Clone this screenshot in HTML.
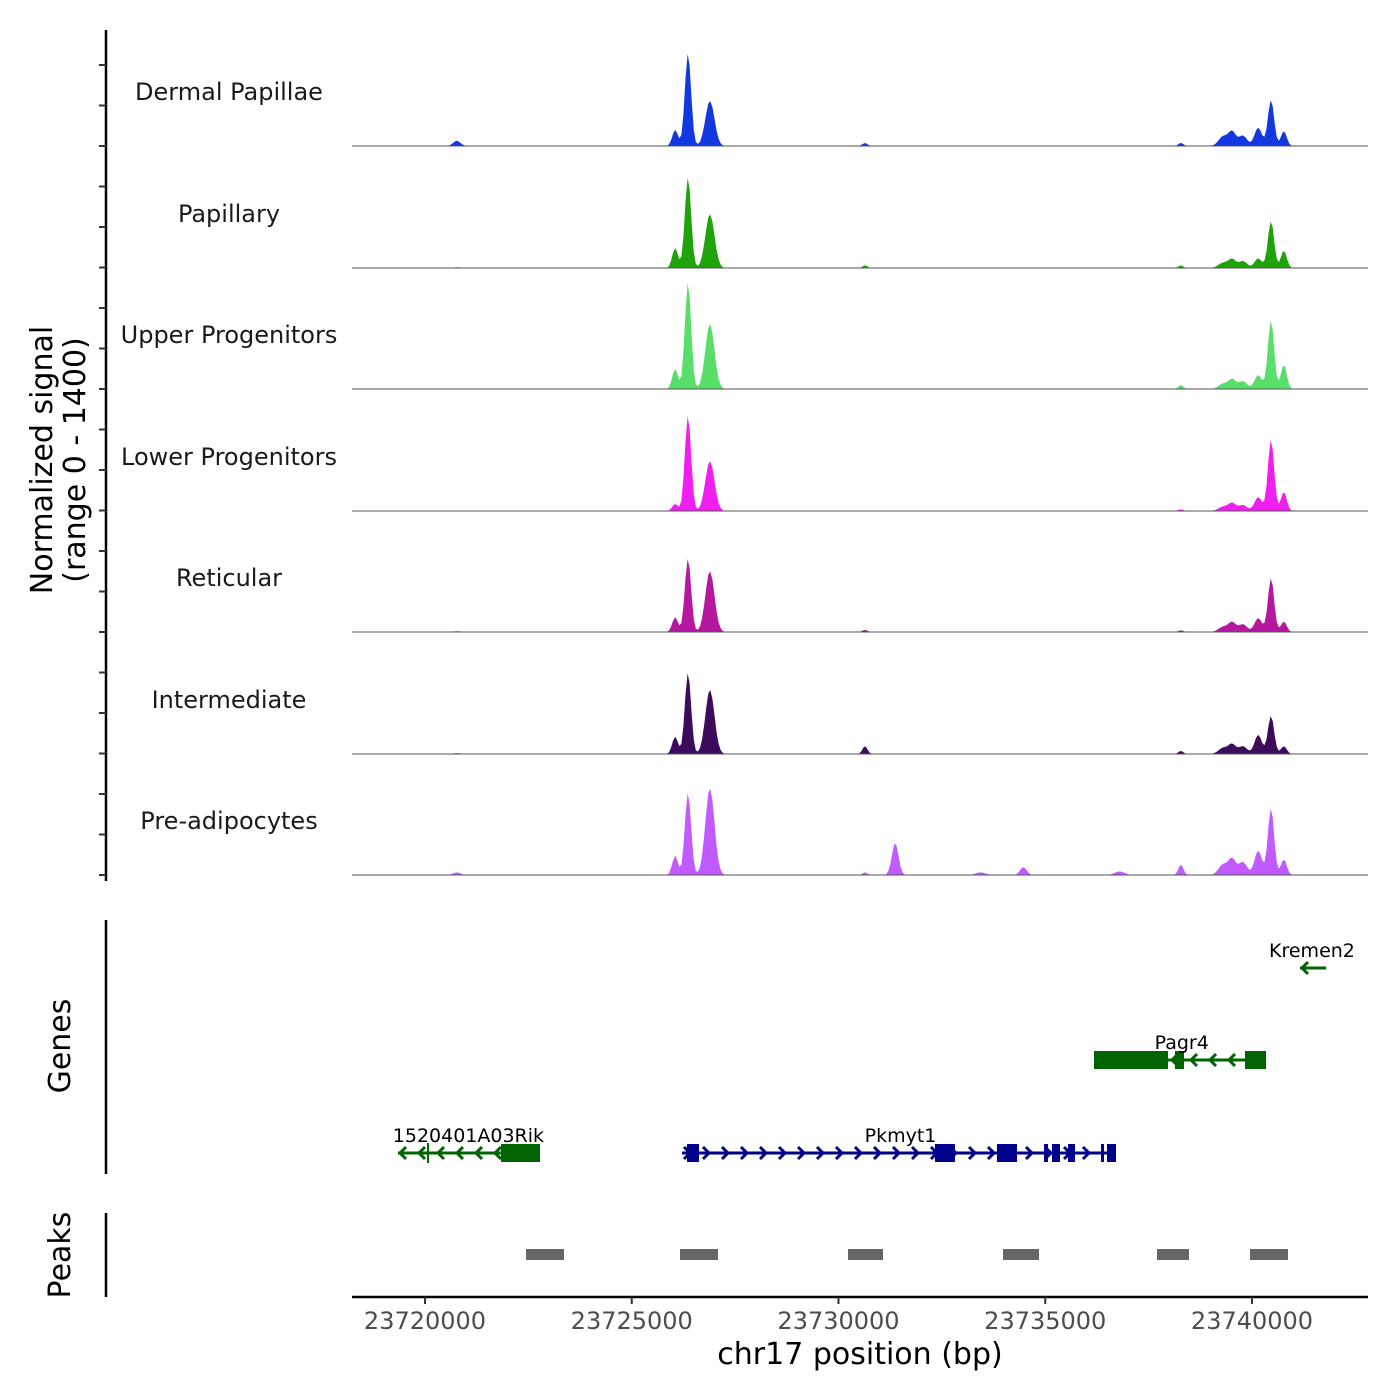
<!DOCTYPE html>
<html><head><meta charset="utf-8"><style>
body{margin:0;background:#fff}
svg{display:block;font-family:"DejaVu Sans","Liberation Sans",sans-serif}
</style></head><body>
<svg id="chart" width="1400" height="1400" viewBox="0 0 1400 1400" xmlns="http://www.w3.org/2000/svg"></svg>
<script>
// ---- data ----
const trackNames = ["Dermal Papillae","Papillary","Upper Progenitors","Lower Progenitors","Reticular","Intermediate","Pre-adipocytes"];
const trackColors = ["#1438e0","#1ea30a","#5ade6a","#f01ff0","#b5179e","#3d0b5c","#c25bff"];
// peak centers (bp) shared by tracks
const peakPos = [23720770,23726050,23726360,23726890,23730640,23731370,23733430,23734470,23736800,23738280,23739300,23739520,23739780,23740150,23740460,23740770];
const peakSd  = [90,70,75,110,60,80,120,80,120,60,110,90,100,90,75,70];
const sigDermal = [60,185,1070,520,35,0,5,5,5,35,110,160,120,210,530,170];
const sigPap    = [8,230,1050,620,30,0,5,5,5,30,60,100,80,110,540,200];
const sigUpper  = [5,230,1230,750,5,0,5,5,5,45,60,110,90,160,790,280];
const sigLower  = [5,80,1100,575,5,0,5,5,5,20,50,90,70,160,820,220];
const sigRet    = [10,170,850,700,25,0,5,5,5,20,60,110,90,160,620,120];
const sigInter  = [10,200,940,740,90,0,5,5,5,35,70,110,90,220,440,90];
const sigPreAd  = [30,220,950,1000,30,370,30,90,40,120,120,180,150,280,770,180];
const trackSignals = [sigDermal,sigPap,sigUpper,sigLower,sigRet,sigInter,sigPreAd];
const xTicks = [23720000,23725000,23730000,23735000,23740000];
const genes = [
 {name:"1520401A03Rik",strand:-1,color:"#006400",row:2,start:23719347,end:23722781,exons:[[23721838,23722781]],extra:[23720073],labelAt:23721050},
 {name:"Pkmyt1",strand:1,color:"#00008b",row:2,start:23726215,end:23736711,exons:[[23726336,23726626],[23732334,23732817],[23733833,23734317],[23734970,23735067],[23735163,23735357],[23735550,23735720],[23736348,23736421],[23736493,23736711]],extra:[],labelAt:23731500},
 {name:"Pagr4",strand:-1,color:"#006400",row:1,start:23736179,end:23740339,exons:[[23736179,23737969],[23738138,23738356],[23739831,23740339]],extra:[],labelAt:23738300},
 {name:"Kremen2",strand:-1,color:"#006400",row:0,start:23741161,end:23741790,exons:[],extra:[],labelAt:23741450}
];
const peakStarts = [23722443,23726167,23730230,23733978,23737703,23739952];
const peakEnds   = [23723362,23727086,23731076,23734849,23738476,23740871];
// ---- scales ----
const X0=425, PX=0.04135, BP0=23720000, XL=352, XR=1368;
const xs = bp => X0 + (bp-BP0)*PX;
const baselines=[146,268,389,511,632,754,875], TH=121.5, MAXV=1400;
const ys = (i,v) => baselines[i] - v/MAXV*TH;
const svg=document.getElementById('chart'), NS="http://www.w3.org/2000/svg";
function mk(tag,attrs,parent){const e=document.createElementNS(NS,tag);for(const k in attrs)e.setAttribute(k,attrs[k]);(parent||svg).appendChild(e);return e;}
let ax=mk('line',{x1:106,y1:30,x2:106,y2:881,stroke:'#000','stroke-width':2.5});

for(let y=875;y>=60;y-=TH/3){let t=mk('line',{x1:99,y1:y,x2:106,y2:y,stroke:'#333','stroke-width':2});
}
let yt=mk('text',{x:0,y:0,'font-size':30,'text-anchor':'middle',transform:'translate(52,460) rotate(-90)'});

yt.innerHTML='<tspan x="0" dy="0">Normalized signal</tspan><tspan x="0" dy="33">(range 0 - 1400)</tspan>';
const step=50;
trackNames.forEach((nm,i)=>{
 const g=mk('g',{});
 const sig=trackSignals[i];
 let d=`M${xs(23718200)},${baselines[i]}`;
 for(let bp=23718200;bp<=23741900;bp+=step){
  let v=0;for(let k=0;k<peakPos.length;k++){const z=(bp-peakPos[k])/peakSd[k];v+=sig[k]*Math.exp(-0.5*z*z);}
  d+=`L${xs(bp).toFixed(1)},${ys(i,Math.min(v,MAXV)).toFixed(1)}`;
 }
 d+=`L${xs(23741900)},${baselines[i]}Z`;
 const p=mk('path',{d:d,fill:trackColors[i]},g);
 const b=mk('line',{x1:XL,x2:XR,y1:baselines[i],y2:baselines[i],stroke:'#555','stroke-width':1},g);
 const t=mk('text',{x:229,y:baselines[i]-46,'font-size':24,'text-anchor':'middle',fill:'#1a1a1a'},g);t.textContent=nm;
 
});
let ga=mk('line',{x1:106,y1:920,x2:106,y2:1174,stroke:'#000','stroke-width':2.5});
let gl=mk('text',{x:0,y:0,'font-size':30,'text-anchor':'middle',transform:'translate(70,1046) rotate(-90)'});gl.textContent='Genes';
const rowY=[968,1060,1153];
genes.forEach(gn=>{
 const g=mk('g',{});
 const y=rowY[gn.row],c=gn.color;
 mk('line',{x1:xs(gn.start),x2:xs(gn.end),y1:y,y2:y,stroke:c,'stroke-width':3},g);
 const len=xs(gn.end)-xs(gn.start);const n=Math.max(1,Math.floor(len/19));
 for(let k=0;k<n;k++){const s=gn.strand;const ax2=s<0?xs(gn.start)+2+k*19:xs(gn.start)+8+k*19;
  mk('polyline',{points:`${ax2-6*s},${y-6} ${ax2},${y} ${ax2-6*s},${y+6}`,fill:'none',stroke:c,'stroke-width':3},g);}
 gn.exons.forEach(e=>{const r=mk('rect',{x:xs(e[0]),y:y-9,width:Math.max(3,xs(e[1])-xs(e[0])),height:18,fill:c},g);});
 gn.extra.forEach(e=>mk('line',{x1:xs(e),x2:xs(e),y1:y-10,y2:y+10,stroke:c,'stroke-width':2},g));
 const t=mk('text',{x:xs(gn.labelAt),y:y-11,'font-size':19,'text-anchor':'middle',fill:'#000'},g);t.textContent=gn.name;
 
});
let pa=mk('line',{x1:106,y1:1213,x2:106,y2:1297,stroke:'#000','stroke-width':2.5});
let pl=mk('text',{x:0,y:0,'font-size':30,'text-anchor':'middle',transform:'translate(70,1255) rotate(-90)'});pl.textContent='Peaks';
peakStarts.forEach((s,k)=>{const r=mk('rect',{x:xs(s),y:1249,width:xs(peakEnds[k])-xs(s),height:11,fill:'#666'});
 });
let xa=mk('line',{x1:XL,x2:XR,y1:1297,y2:1297,stroke:'#000','stroke-width':2.5});
xTicks.forEach(v=>{const tk=mk('line',{x1:xs(v),x2:xs(v),y1:1297,y2:1304,stroke:'#333','stroke-width':2});
 const t=mk('text',{x:xs(v),y:1329,'font-size':24,'text-anchor':'middle',fill:'#4d4d4d'});t.textContent=v;});
let xt=mk('text',{x:860,y:1364,'font-size':30,'text-anchor':'middle'});xt.textContent='chr17 position (bp)';
</script>
</body></html>
